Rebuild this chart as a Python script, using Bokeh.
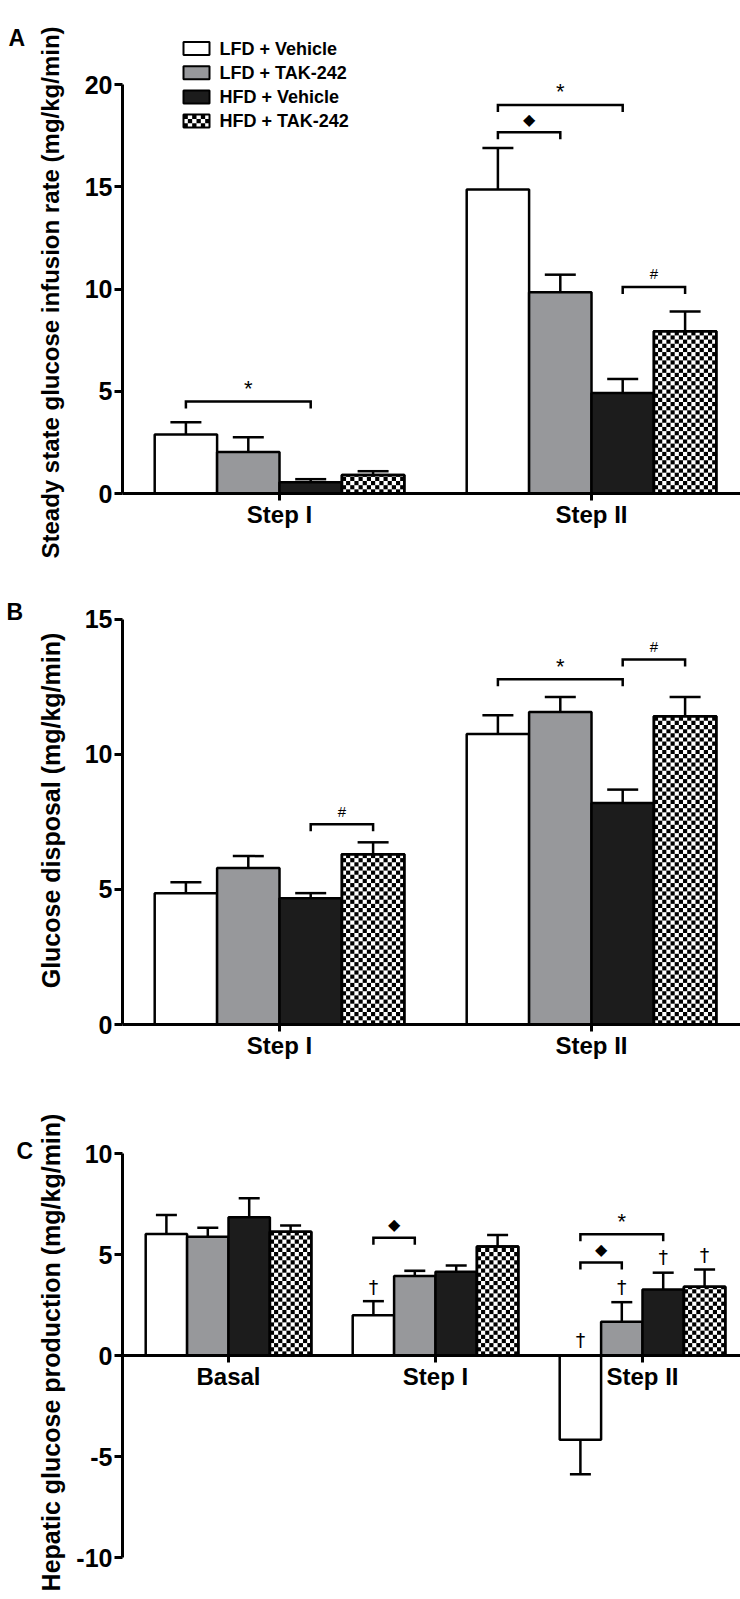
import numpy as np
from bokeh.plotting import figure
from bokeh.models import (ColumnDataSource, Whisker, TeeHead, FixedTicker, Label,
                          Range1d)
from bokeh.layouts import column
from bokeh.embed import file_html
from bokeh.resources import INLINE
from bokeh.core.properties import value

# ---------------- data ----------------
series = ["LFD + Vehicle", "LFD + TAK-242", "HFD + Vehicle", "HFD + TAK-242"]
series_fill = ["#ffffff", "#97989b", "#1c1c1c", "#ffffff"]
series_checker = [False, False, False, True]

# Panel A: steady state glucose infusion rate
a_categories = ["Step I", "Step II"]
a_lfd_veh = [2.88, 14.87]
a_lfd_veh_sem = [0.60, 2.03]
a_lfd_tak = [2.03, 9.84]
a_lfd_tak_sem = [0.72, 0.86]
a_hfd_veh = [0.55, 4.92]
a_hfd_veh_sem = [0.15, 0.68]
a_hfd_tak = [0.90, 7.93]
a_hfd_tak_sem = [0.19, 0.97]
a_yticks = [0, 5, 10, 15, 20]
a_ylabel = "Steady state glucose infusion rate (mg/kg/min)"
a_sig_group = [0, 1, 1, 1]
a_sig_from = [0, 0, 0, 2]
a_sig_to = [2, 2, 1, 3]
a_sig_y = [4.5, 19.0, 17.67, 10.1]
a_sig_mark = ["*", "*", "\u25c6", "#"]

# Panel B: glucose disposal
b_categories = ["Step I", "Step II"]
b_lfd_veh = [4.86, 10.75]
b_lfd_veh_sem = [0.40, 0.69]
b_lfd_tak = [5.79, 11.56]
b_lfd_tak_sem = [0.44, 0.56]
b_hfd_veh = [4.67, 8.19]
b_hfd_veh_sem = [0.19, 0.50]
b_hfd_tak = [6.30, 11.40]
b_hfd_tak_sem = [0.44, 0.72]
b_yticks = [0, 5, 10, 15]
b_ylabel = "Glucose disposal (mg/kg/min)"
b_sig_group = [0, 1, 1]
b_sig_from = [2, 0, 2]
b_sig_to = [3, 2, 3]
b_sig_y = [7.41, 12.77, 13.5]
b_sig_mark = ["#", "*", "#"]

# Panel C: hepatic glucose production
c_categories = ["Basal", "Step I", "Step II"]
c_lfd_veh = [6.02, 1.99, -4.17]
c_lfd_veh_sem = [0.93, 0.70, 1.71]
c_lfd_tak = [5.88, 3.93, 1.67]
c_lfd_tak_sem = [0.44, 0.26, 0.97]
c_hfd_veh = [6.85, 4.14, 3.27]
c_hfd_veh_sem = [0.93, 0.31, 0.83]
c_hfd_tak = [6.13, 5.40, 3.40]
c_hfd_tak_sem = [0.31, 0.57, 0.86]
c_yticks = [-10, -5, 0, 5, 10]
c_ylabel = "Hepatic glucose production (mg/kg/min)"
c_sig_group = [1, 2, 2]
c_sig_from = [0, 0, 0]
c_sig_to = [1, 2, 1]
c_sig_y = [5.83, 6.0, 4.6]
c_sig_mark = ["\u25c6", "*", "\u25c6"]
c_dag_group = [1, 2, 2, 2, 2]
c_dag_series = [0, 0, 1, 2, 3]
c_dag_y = [3.4, 0.76, 3.4, 4.86, 5.0]

# ---------------- style / layout ----------------
FONT = "Liberation Sans"
BAR_W = 0.2
W = 740
AXIS_PX = 122          # page x of the y axis
SQ_PX = 4.1            # checker square size in px
mark_size = {"*": "22px", "#": "15px", "\u25c6": "16px"}


def checker_cells(xc, top, bar_px, ppu):
    """black cells of a checker pattern filling bars of width BAR_W from 0 to top"""
    L, R, B, T = [], [], [], []
    ncol = max(1, int(round(bar_px / SQ_PX)))
    cw = BAR_W / ncol
    ch = (bar_px / ncol) / ppu
    for x, t in zip(xc, top):
        nrow = int(np.ceil(t / ch - 1e-9))
        for j in range(nrow):
            b0 = j * ch
            t0 = min(t, b0 + ch)
            for i in range(ncol):
                if (i + j) % 2 == 1:
                    l0 = x - BAR_W / 2 + i * cw
                    L.append(l0); R.append(l0 + cw); B.append(b0); T.append(t0)
    return dict(left=L, right=R, bottom=B, top=T)


def make_panel(cats, means, sems, yticks, ylabel, ylabel_center_px, ylabel_size,
               letter, letter_px, sig, geo, dag=None, legend=False):
    h, ppu, z = geo["h"], geo["ppu"], geo["zero_px"]
    gpx, cx0 = geo["group_px"], geo["first_px"]
    y_top = z / ppu
    y_bot = -(h - z) / ppu
    x_start = -cx0 / gpx
    x_end = (W - cx0) / gpx
    axis_x = (AXIS_PX - cx0) / gpx

    def dx(px):
        return x_start + px / gpx

    def dy(py):
        return y_top - py / ppu

    p = figure(width=W, height=h, x_range=Range1d(x_start, x_end),
               y_range=Range1d(y_bot, y_top), output_backend="svg",
               toolbar_location=None, title=None, min_border=0,
               min_border_left=0, min_border_right=0, min_border_top=0,
               min_border_bottom=0)
    p.grid.visible = False
    p.outline_line_color = None
    p.background_fill_color = "white"

    offsets = (np.arange(4) - 1.5) * BAR_W
    groups = np.arange(len(cats))
    bar_px = BAR_W * gpx
    for i in range(4):
        m = np.array(means[i], dtype=float)
        e = np.array(sems[i], dtype=float)
        end = m + np.sign(m) * e
        src = ColumnDataSource(dict(x=groups + offsets[i], top=m, end=end))
        p.vbar(x="x", top="top", bottom=0, width=BAR_W, source=src,
               fill_color=series_fill[i], line_color="black", line_width=2.5)
        if series_checker[i]:
            cells = ColumnDataSource(checker_cells(groups + offsets[i], m,
                                                   bar_px, ppu))
            p.quad(left="left", right="right", bottom="bottom", top="top",
                   source=cells, fill_color="black", line_color=None)
            p.vbar(x="x", top="top", bottom=0, width=BAR_W, source=src,
                   fill_color=None, line_color="black", line_width=2.5)
        w = Whisker(source=src, base="x", lower="top", upper="end",
                    dimension="height", line_color="black", line_width=2.5,
                    lower_head=None,
                    upper_head=TeeHead(size=geo["cap"], line_color="black",
                                       line_width=2.5))
        p.add_layout(w)

    # significance brackets
    sg, sf, st, sy, sm = sig
    drop = 7.0 / ppu
    bx0 = [g + offsets[f] for g, f in zip(sg, sf)]
    bx1 = [g + offsets[t] for g, t in zip(sg, st)]
    xs = [[a, a, b, b] for a, b in zip(bx0, bx1)]
    ys = [[y - drop, y, y, y - drop] for y in sy]
    p.multi_line(xs, ys, line_color="black", line_width=2.5, line_join="miter")
    msrc = ColumnDataSource(dict(x=[(a + b) / 2 for a, b in zip(bx0, bx1)],
                                 y=sy, t=sm, s=[mark_size[m] for m in sm]))
    p.text(x="x", y="y", text="t", source=msrc, text_font_size="s",
           text_align="center", text_baseline="middle", y_offset=-13,
           text_font=value(FONT), text_color="black")

    if dag is not None:
        dg, ds, dyv = dag
        dsrc = ColumnDataSource(dict(x=[g + offsets[s] for g, s in zip(dg, ds)],
                                     y=dyv, t=["\u2020"] * len(dyv)))
        p.text(x="x", y="y", text="t", source=dsrc, text_font_size="19px",
               text_align="center", text_baseline="middle",
               text_font=value("DejaVu Sans"), text_color="black")

    # axes (placed at fixed data locations inside the full-size frame)
    ya = p.yaxis[0]
    ya.fixed_location = axis_x
    ya.ticker = FixedTicker(ticks=yticks)
    ya.major_label_overrides = {t: str(t) for t in yticks}
    ya.bounds = (min(yticks), max(yticks))
    ya.axis_line_width = 3
    ya.major_tick_line_width = 3
    ya.major_tick_out = 8
    ya.major_tick_in = 0
    ya.minor_tick_line_color = None
    ya.major_label_text_font = FONT
    ya.major_label_text_font_style = "bold"
    ya.major_label_text_font_size = "25px"
    ya.major_label_text_color = "black"
    ya.major_label_standoff = 2

    xa = p.xaxis[0]
    xa.fixed_location = 0
    xa.ticker = FixedTicker(ticks=list(groups))
    xa.major_label_overrides = {int(g): c for g, c in zip(groups, cats)}
    xa.bounds = (axis_x, x_end)
    xa.axis_line_width = 3
    xa.major_tick_line_width = 3
    xa.major_tick_out = 7
    xa.major_tick_in = 0
    xa.minor_tick_line_color = None
    xa.major_label_text_font = FONT
    xa.major_label_text_font_style = "bold"
    xa.major_label_text_font_size = "24px"
    xa.major_label_text_color = "black"
    xa.major_label_standoff = 0

    # y axis title
    p.add_layout(Label(x=50, y=h - ylabel_center_px, x_units="screen",
                       y_units="screen", text=ylabel, angle=90,
                       angle_units="deg", text_align="center",
                       text_baseline="alphabetic", text_font=FONT,
                       text_font_style="bold", text_font_size=ylabel_size,
                       text_color="black"))
    # panel letter
    p.add_layout(Label(x=letter_px[0], y=h - letter_px[1], x_units="screen",
                       y_units="screen", text=letter, text_font=FONT,
                       text_font_style="bold", text_font_size="23px",
                       text_baseline="alphabetic", text_color="black"))

    if legend:
        # legend drawn as swatches + texts (checker swatch needs real cells)
        lx, gw, gh, row0, pitch, tx = 183, 26, 13, 48, 24.2, 219
        rows = [row0 + k * pitch for k in range(len(series))]
        sw = dict(left=[dx(lx)] * 4, right=[dx(lx + gw)] * 4,
                  top=[dy(r - gh / 2) for r in rows],
                  bottom=[dy(r + gh / 2) for r in rows], fill=series_fill)
        p.quad(left="left", right="right", top="top", bottom="bottom",
               fill_color="fill", line_color=None, source=ColumnDataSource(sw))
        L, R, B, T = [], [], [], []
        nc, nr = 6, 3
        for k, r in enumerate(rows):
            if not series_checker[k]:
                continue
            for j in range(nr):
                for i in range(nc):
                    if (i + j) % 2 == 0:
                        L.append(dx(lx + i * gw / nc)); R.append(dx(lx + (i + 1) * gw / nc))
                        T.append(dy(r - gh / 2 + j * gh / nr))
                        B.append(dy(r - gh / 2 + (j + 1) * gh / nr))
        p.quad(left=L, right=R, bottom=B, top=T, fill_color="black",
               line_color=None)
        p.quad(left="left", right="right", top="top", bottom="bottom",
               fill_color=None, line_color="black", line_width=2,
               source=ColumnDataSource(sw))
        p.text(x=[dx(tx)] * 4, y=[dy(r) for r in rows], text=series,
               text_font=value(FONT), text_font_style="bold",
               text_font_size="18px", text_baseline="middle",
               text_align="left", text_color="black")
    return p


geo_a = dict(h=560, ppu=20.45, zero_px=493, group_px=312, first_px=279, cap=31)
geo_b = dict(h=530, ppu=27.03, zero_px=464, group_px=312, first_px=279, cap=31)
geo_c = dict(h=509, ppu=20.2, zero_px=265, group_px=207, first_px=228, cap=21)

pA = make_panel(a_categories,
                [a_lfd_veh, a_lfd_tak, a_hfd_veh, a_hfd_tak],
                [a_lfd_veh_sem, a_lfd_tak_sem, a_hfd_veh_sem, a_hfd_tak_sem],
                a_yticks, a_ylabel, 292, "24px", "A", (8, 37),
                (a_sig_group, a_sig_from, a_sig_to, a_sig_y, a_sig_mark),
                geo_a, legend=True)
pB = make_panel(b_categories,
                [b_lfd_veh, b_lfd_tak, b_hfd_veh, b_hfd_tak],
                [b_lfd_veh_sem, b_lfd_tak_sem, b_hfd_veh_sem, b_hfd_tak_sem],
                b_yticks, b_ylabel, 250, "25px", "B", (6, 51),
                (b_sig_group, b_sig_from, b_sig_to, b_sig_y, b_sig_mark),
                geo_b)
pC = make_panel(c_categories,
                [c_lfd_veh, c_lfd_tak, c_hfd_veh, c_hfd_tak],
                [c_lfd_veh_sem, c_lfd_tak_sem, c_hfd_veh_sem, c_hfd_tak_sem],
                c_yticks, c_ylabel, 262, "25px", "C", (16, 60),
                (c_sig_group, c_sig_from, c_sig_to, c_sig_y, c_sig_mark),
                geo_c, dag=(c_dag_group, c_dag_series, c_dag_y))

layout = column(pA, pB, pC, spacing=0)
open("out.html", "w").write(file_html(layout, INLINE))
